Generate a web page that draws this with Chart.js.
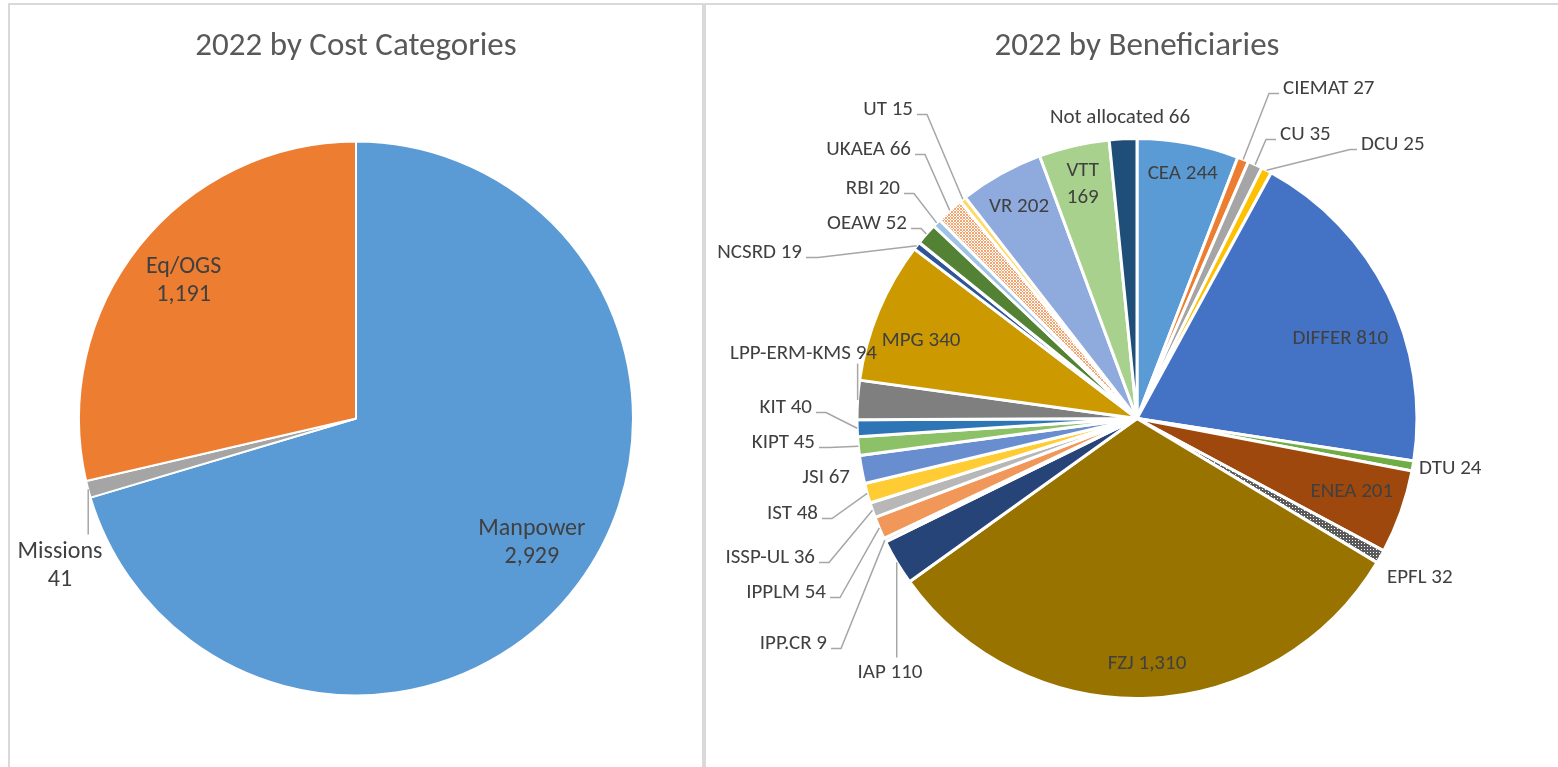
<!DOCTYPE html>
<html>
<head>
<meta charset="utf-8">
<script src="https://cdn.jsdelivr.net/npm/chart.js@4.4.1/dist/chart.umd.min.js"></script>
<style>
  html, body { margin: 0; padding: 0; background: #fff; overflow: hidden; }
  body { width: 1558px; height: 767px; position: relative; }
  .panel { position: absolute; top: 3px; height: 800px; border: 2px solid #d9d9d9; box-sizing: border-box; }
  #leftPanel { left: 8px; width: 696px; }
  #rightPanel { left: 704px; width: 900px; }
  canvas { position: absolute; top: 5px; }
  #costChart { left: 10px; }
  #benChart { left: 706px; }
</style>
</head>
<body>
<div class="panel" id="leftPanel"></div>
<div class="panel" id="rightPanel"></div>
<canvas id="costChart" width="692" height="762"></canvas>
<canvas id="benChart" width="852" height="762"></canvas>
<script>
// ---- data ----
const costLabels = ['Manpower', 'Missions', 'Eq/OGS'];
const costValues = [2929, 41, 1191];

const benLabels = ['CEA', 'CIEMAT', 'CU', 'DCU', 'DIFFER', 'DTU', 'ENEA', 'EPFL', 'FZJ', 'IAP',
  'IPP.CR', 'IPPLM', 'ISSP-UL', 'IST', 'JSI', 'KIPT', 'KIT', 'LPP-ERM-KMS', 'MPG', 'NCSRD',
  'OEAW', 'RBI', 'UKAEA', 'UT', 'VR', 'VTT', 'Not allocated'];
const benValues = [244, 27, 35, 25, 810, 24, 201, 32, 1310, 110,
  9, 54, 36, 48, 67, 45, 40, 94, 340, 19,
  52, 20, 66, 15, 202, 169, 66];

// ---- styles ----
const FONT = 'Carlito, Calibri, Lato, sans-serif';
const TEXT = '#404040';

function dotPattern(bg, fg, size, dots) {
  const c = document.createElement('canvas');
  c.width = c.height = size;
  const x = c.getContext('2d');
  x.fillStyle = bg;
  x.fillRect(0, 0, size, size);
  x.fillStyle = fg;
  dots.forEach(d => x.fillRect(d[0], d[1], 1, 1));
  return x.createPattern(c, 'repeat');
}

const costColors = ['#5b9bd5', '#a5a5a5', '#ed7d31'];
const benColors = ['#5b9bd5', '#ed7d31', '#a5a5a5', '#ffc000', '#4472c4', '#70ad47', '#9e480e',
  dotPattern('#5a5a5a', '#ffffff', 3, [[1, 1]]),
  '#997300', '#264478', '#d6e3f3', '#f1975a', '#b7b7b7', '#ffcd33', '#698ed0', '#8cc168',
  '#2e75b6', '#7f7f7f', '#cc9a00', '#2f5597', '#548235', '#9dc3e6',
  dotPattern('#ffffff', '#f4a46e', 3, [[0, 0], [1, 1], [2, 2], [0, 2], [2, 0]]),
  '#ffd966', '#8faadc', '#a9d18e', '#1f4e79'];

// label placement per slice: r/da = inside along the slice middle,
// dx/dy = offset from the pie centre, line = leader style
const costLayout = [
  { r: 0.777, da: -1.5, br: true },
  { dx: -296, dy: 147, align: 'center', br: true, line: 'v', ly: 116 },
  { r: 0.795, br: true }
];
const benLayout = [
  { r: 0.89 },                                              // CEA
  { dx: 146, dy: -330, align: 'left', line: 'elbow' },      // CIEMAT
  { dx: 143, dy: -284, align: 'left', line: 'elbow' },      // CU
  { dx: 224, dy: -274, align: 'left', line: 'elbow', len: 7 }, // DCU
  { r: 0.78, da: 4.9 },                                     // DIFFER
  { dx: 282, dy: 50, align: 'left' },                       // DTU
  { r: 0.81, da: -0.8 },                                    // ENEA
  { dx: 250, dy: 159, align: 'left' },                      // EPFL
  { r: 0.875 },                                             // FZJ
  { dx: -247, dy: 254, align: 'center', line: 'v', ly: 239 }, // IAP
  { dx: -310, dy: 225, align: 'right', line: 'elbow' },     // IPP.CR
  { dx: -311, dy: 174, align: 'right', line: 'elbow' },     // IPPLM
  { dx: -322, dy: 139, align: 'right', line: 'elbow' },     // ISSP-UL
  { dx: -319, dy: 95, align: 'right', line: 'elbow' },      // IST
  { dx: -287, dy: 59, align: 'right' },                     // JSI
  { dx: -322, dy: 24, align: 'right', line: 'elbow' },      // KIPT
  { dx: -325, dy: -11, align: 'right', line: 'elbow' },     // KIT
  { dx: -260, dy: -65, align: 'right', line: 'v', ly: -55 }, // LPP-ERM-KMS
  { r: 0.82, da: -2.7 },                                    // MPG
  { dx: -335, dy: -166, align: 'right', line: 'elbow', len: 12 }, // NCSRD
  { dx: -230, dy: -195, align: 'right', line: 'elbow' },    // OEAW
  { dx: -237, dy: -230, align: 'right', line: 'elbow' },    // RBI
  { dx: -226, dy: -269, align: 'right', line: 'elbow' },    // UKAEA
  { dx: -224, dy: -309, align: 'right', line: 'elbow' },    // UT
  { r: 0.867 },                                             // VR
  { r: 0.86, br: true },                                    // VTT
  { dx: -17, dy: -301, align: 'center' }                    // Not allocated
];

const sliceLabels = {
  id: 'sliceLabels',
  afterDatasetsDraw(chart, args, opts) {
    const ctx = chart.ctx;
    const meta = chart.getDatasetMeta(0);
    const labels = chart.data.labels;
    const values = chart.data.datasets[0].data;
    ctx.save();
    ctx.font = opts.size + 'px ' + FONT;
    ctx.fillStyle = TEXT;
    ctx.strokeStyle = '#a6a6a6';
    ctx.lineWidth = 1.5;
    ctx.textBaseline = 'middle';
    meta.data.forEach((arc, i) => {
      const lay = opts.layout[i];
      const p = arc.getProps(['x', 'y', 'startAngle', 'endAngle', 'outerRadius'], true);
      const mid = (p.startAngle + p.endAngle) / 2;
      const lines = [labels[i], values[i].toLocaleString('en-US')];
      const rows = lay.br ? lines : [lines.join(' ')];
      let tx, ty, align;
      if (lay.r !== undefined) {
        const a = mid + (lay.da || 0) * Math.PI / 180;
        tx = p.x + Math.cos(a) * p.outerRadius * lay.r;
        ty = p.y + Math.sin(a) * p.outerRadius * lay.r;
        align = 'center';
      } else {
        tx = p.x + lay.dx;
        ty = p.y + lay.dy;
        align = lay.align;
        const px = p.x + Math.cos(mid) * p.outerRadius;
        const py = p.y + Math.sin(mid) * p.outerRadius;
        if (lay.line === 'elbow') {
          const dir = align === 'left' ? -1 : 1;
          const sx = tx + dir * 4;
          const ex = sx + dir * (lay.len || 10);
          const ly = ty + 5;
          ctx.beginPath();
          ctx.moveTo(px, py);
          ctx.lineTo(ex, ly);
          ctx.lineTo(sx, ly);
          ctx.stroke();
        } else if (lay.line === 'v') {
          ctx.beginPath();
          ctx.moveTo(px, py);
          ctx.lineTo(px, p.y + lay.ly);
          ctx.stroke();
        }
      }
      ctx.textAlign = align;
      rows.forEach((t, k) => {
        ctx.fillText(t, tx, ty + (k - (rows.length - 1) / 2) * opts.lineHeight);
      });
    });
    ctx.restore();
  }
};

function pieConfig(labels, values, colors, title, radius, pad, border, layout, size, lineHeight) {
  return {
    type: 'pie',
    data: {
      labels: labels,
      datasets: [{
        data: values,
        backgroundColor: colors,
        borderColor: '#ffffff',
        borderWidth: border
      }]
    },
    options: {
      responsive: false,
      animation: false,
      events: [],
      radius: radius,
      layout: { padding: pad },
      plugins: {
        legend: { display: false },
        tooltip: { enabled: false },
        title: {
          display: true,
          text: title,
          color: '#595959',
          font: { family: FONT, size: 33, weight: 'normal' },
          padding: { top: 22.2, bottom: 14.6 }
        },
        sliceLabels: { layout: layout, size: size, lineHeight: lineHeight }
      }
    },
    plugins: [sliceLabels]
  };
}

new Chart(document.getElementById('costChart'),
  pieConfig(costLabels, costValues, costColors, '2022 by Cost Categories', 277,
    { left: 69, right: 69, top: 0, bottom: 11.4 }, 2, costLayout, 24, 28));

new Chart(document.getElementById('benChart'),
  pieConfig(benLabels, benValues, benColors, '2022 by Beneficiaries', 280,
    { left: 151, right: 141, top: 0, bottom: 11.4 }, 3, benLayout, 21, 27));
</script>
</body>
</html>
